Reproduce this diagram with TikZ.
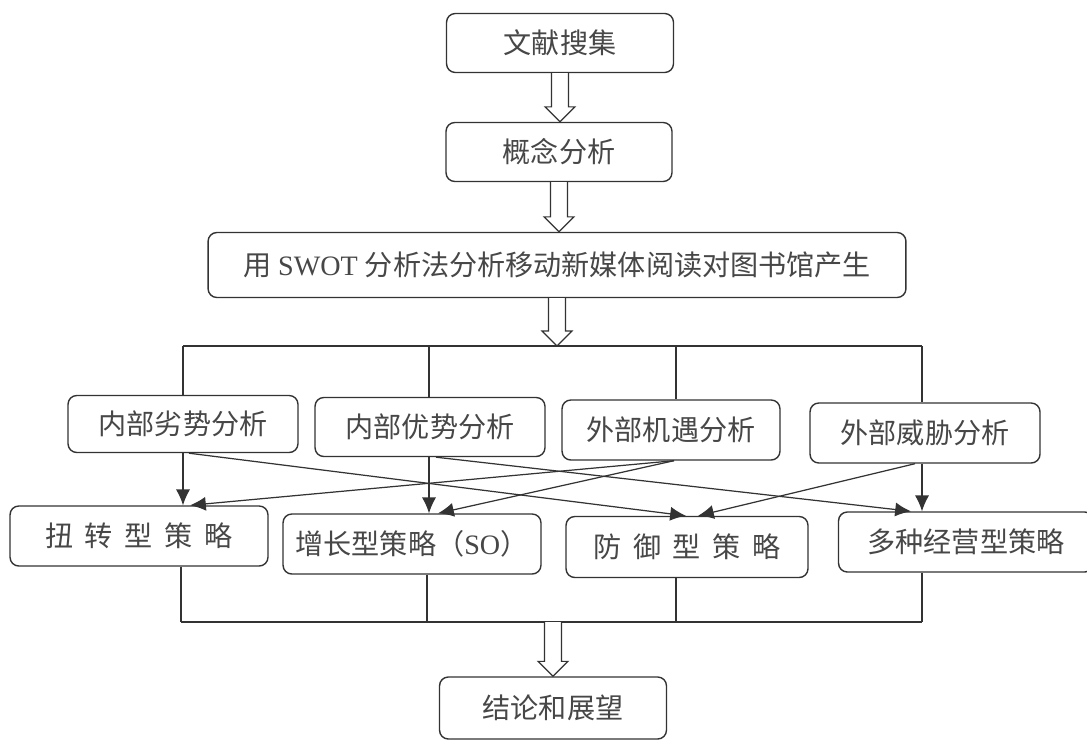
\documentclass[tikz,border=0pt]{standalone}
\usepackage{fontspec}
\setmainfont{Liberation Serif}
\newfontfamily\cjk{Noto Sans CJK SC}
\usetikzlibrary{arrows.meta,calc}

\tikzset{
  box/.style={draw=black!80, line width=0.8pt, rounded corners=5pt, inner sep=0pt,
    font=\fontsize{16}{18}\selectfont\cjk, text=black!72},
  link/.style={draw=black!80, line width=0.7pt},
  arr/.style={link, -{Latex[length=9pt,width=8pt]}},
}

\newcommand{\chargap}{\hspace{0.42em}}
% open double-line arrow from one node border to the next
\newcommand{\hollowarrow}[2]{%
  \draw[link, fill=white] let \p1=(#1), \p2=(#2) in
    (\x1-4.8pt,\y1) -- (\x1-4.8pt,\y2+8.5pt) -- (\x1-8.5pt,\y2+8.5pt) -- (\x1,\y2)
    -- (\x1+8.5pt,\y2+8.5pt) -- (\x1+4.8pt,\y2+8.5pt) -- (\x1+4.8pt,\y1);}

\begin{document}
\begin{tikzpicture}[x=0.02cm, y=-0.02cm]
\useasboundingbox[fill=white] (0,0) rectangle (1087,740);

% top chain
\node[box, minimum width=4.54cm, minimum height=1.18cm] (lit) at (560,43) {文献搜集};
\node[box, minimum width=4.52cm, minimum height=1.18cm] (concept) at (559,152) {概念分析};
\node[box, minimum width=13.96cm, minimum height=1.3cm] (swot) at (557,265)
  {用\hspace{0.25em}{\rmfamily SWOT}\hspace{0.25em}分析法分析移动新媒体阅读对图书馆产生};

% SWOT analysis row
\node[box, minimum width=4.6cm, minimum height=1.14cm] (weak) at (183,424) {内部劣势分析};
\node[box, minimum width=4.6cm, minimum height=1.18cm] (strong) at (430,427) {内部优势分析};
\node[box, minimum width=4.36cm, minimum height=1.2cm] (opp) at (671,430) {外部机遇分析};
\node[box, minimum width=4.6cm, minimum height=1.2cm] (threat) at (925,433) {外部威胁分析};

% strategy row
\node[box, minimum width=5.16cm, minimum height=1.2cm] (turn) at (139,536)
  {扭\chargap 转\chargap 型\chargap 策\chargap 略};
\node[box, minimum width=5.16cm, minimum height=1.2cm] (grow) at (412,544)
  {增长型策略（{\rmfamily SO}）};
\node[box, minimum width=4.84cm, minimum height=1.22cm] (defend) at (687,547)
  {防\chargap 御\chargap 型\chargap 策\chargap 略};
\node[box, minimum width=5.1cm, minimum height=1.2cm] (multi) at (966,542) {多种经营型策略};

\node[box, minimum width=4.54cm, minimum height=1.24cm] (end) at (553,708) {结论和展望};

% bus lines
\coordinate (bt1) at (183,346);
\coordinate (bt2) at (429,346);
\coordinate (bt3) at (676,346);
\coordinate (bt4) at (922,346);
\coordinate (bb1) at (181,622);
\coordinate (bb2) at (427,622);
\coordinate (bb3) at (676,622);
\coordinate (bb4) at (922,622);

\draw[link] (bt1) -- (bt4);
\foreach \c/\n in {bt1/weak, bt2/strong, bt3/opp, bt4/threat}
  \draw[link] (\c) -- (\c |- \n.north);
\draw[link] (bb1) -- (bb4);
\foreach \c/\n in {bb1/turn, bb2/grow, bb3/defend, bb4/multi}
  \draw[link] (\c |- \n.south) -- (\c);

% hollow arrows
\hollowarrow{lit.south}{concept.north}
\hollowarrow{concept.south}{swot.north}
\hollowarrow{swot.south}{$(swot.south |- bt1)$}
\hollowarrow{$(end.north |- bb1)$}{end.north}

% crossing arrows
\draw[arr] (bt1 |- weak.south) -- (bt1 |- turn.north);
\draw[arr] ($(bt1 |- weak.south)+(6,0)$) -- ($(defend.north)+(-1,0)$);
\draw[arr] (bt2 |- strong.south) -- (bt2 |- grow.north);
\draw[arr] ($(bt2 |- strong.south)+(7,0)$) -- ($(bt4 |- multi.north)+(-11,0)$);
\draw[arr] ($(opp.south)+(3,0)$) -- ($(bt1 |- turn.north)+(7,0)$);
\draw[arr] ($(opp.south)+(3,0)$) -- ($(bt2 |- grow.north)+(9,0)$);
\draw[arr] ($(threat.south)+(-10,0)$) -- ($(defend.north)+(11,0)$);
\draw[arr] (bt4 |- threat.south) -- (bt4 |- multi.north);
\end{tikzpicture}
\end{document}
